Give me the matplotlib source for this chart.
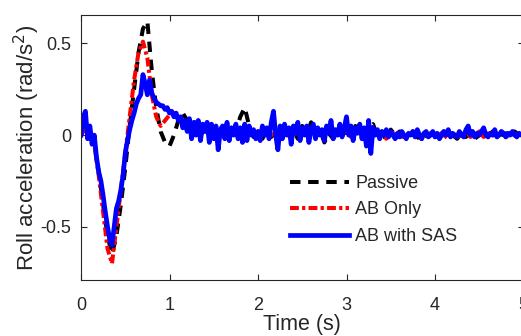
import numpy as np
import matplotlib
matplotlib.use("Agg")
import matplotlib.pyplot as plt

plt.rcParams['font.family'] = ['Liberation Sans', 'DejaVu Sans']

# Passive, sampled every 0.05 s from 0 to 5 s
t_passive = [i * 0.05 for i in range(101)]
passive = [0.0, 0.05, 0.0, -0.05, -0.2, -0.38, -0.55, -0.65, -0.55, -0.38,
           -0.18, 0.05, 0.25, 0.45, 0.58, 0.62, 0.35, 0.15, 0.02, -0.04,
           -0.06, 0.0, 0.08, 0.12, 0.08, 0.03, 0.07, 0.0, 0.03, 0.0,
           0.02, -0.02, 0.02, 0.0, 0.04, 0.02, 0.1, 0.15, 0.05, -0.01,
           0.02, -0.02, 0.03, -0.01, 0.02, -0.02, 0.04, 0.0, 0.03, -0.02,
           0.05, 0.0, 0.07, -0.01, 0.03, -0.04, 0.01, -0.02, 0.02, 0.0,
           0.02, -0.01, 0.05, 0.02, 0.0, 0.04, 0.06, -0.01, 0.02, -0.03,
           0.03, 0.0, 0.02, -0.01, 0.0, 0.02, -0.01, -0.03, 0.0, 0.01,
           -0.02, 0.0, 0.02, -0.01, 0.0, -0.02, 0.01, -0.01, 0.02, -0.02,
           0.0, 0.01, -0.01, 0.02, -0.02, 0.0, 0.01, -0.01, 0.02, 0.0,
           0.01]

# AB Only, sampled every 0.05 s
t_ab = [i * 0.05 for i in range(101)]
ab_only = [0.0, 0.04, 0.0, -0.05, -0.22, -0.42, -0.62, -0.7, -0.5, -0.3,
           -0.1, 0.1, 0.3, 0.45, 0.51, 0.42, 0.22, 0.1, 0.05, 0.08,
           0.11, 0.12, 0.1, 0.08, 0.05, 0.03, 0.05, 0.01, 0.03, 0.0,
           0.02, -0.01, 0.03, 0.01, 0.02, 0.0, 0.03, 0.01, 0.04, 0.0,
           0.02, -0.01, 0.03, 0.0, 0.02, -0.02, 0.03, 0.01, 0.02, -0.01,
           0.03, 0.0, 0.04, 0.01, 0.02, -0.02, 0.02, 0.0, 0.03, 0.01,
           0.02, -0.01, 0.04, 0.01, 0.02, 0.03, 0.02, 0.0, 0.01, -0.02,
           0.02, 0.0, 0.01, -0.02, 0.0, 0.02, -0.01, -0.02, 0.01, 0.0,
           -0.01, 0.01, 0.0, -0.02, 0.01, -0.01, 0.0, 0.02, -0.01, 0.0,
           0.02, -0.01, 0.01, 0.0, -0.01, 0.02, -0.01, 0.01, 0.0, 0.01,
           0.0]

# AB with SAS, sampled every 0.025 s
t_sas = [i * 0.025 for i in range(201)]
ab_sas = [0.0, 0.1, 0.13, -0.02, 0.05, -0.05, 0.0, -0.12, -0.2, -0.25,
          -0.33, -0.42, -0.5, -0.57, -0.6, -0.5, -0.4, -0.36, -0.3, -0.22,
          -0.1, -0.03, 0.03, 0.08, 0.12, 0.17, 0.2, 0.22, 0.33, 0.28,
          0.22, 0.3, 0.23, 0.2, 0.18, 0.17, 0.16, 0.16, 0.14, 0.15,
          0.12, 0.13, 0.1, 0.12, 0.08, 0.1, 0.04, 0.08, 0.02, 0.09,
          -0.02, 0.07, 0.0, 0.08, -0.03, 0.06, 0.02, 0.07, -0.04, 0.06,
          -0.02, 0.05, -0.08, 0.03, 0.05, -0.02, 0.07, -0.03, 0.04, 0.0,
          0.06, -0.02, 0.04, -0.04, 0.06, -0.03, 0.05, 0.0, 0.03, -0.02,
          0.02, -0.03, 0.05, 0.0, 0.04, -0.02, 0.07, 0.13, 0.0, -0.08,
          0.05, -0.02, 0.06, 0.0, 0.04, -0.05, 0.05, 0.01, 0.07, -0.03,
          0.04, 0.0, 0.05, -0.04, 0.03, 0.06, -0.02, 0.04, 0.0, 0.03,
          -0.03, 0.05, 0.01, 0.08, -0.02, 0.03, 0.0, 0.06, -0.01, 0.04,
          0.1, 0.0, 0.05, -0.03, 0.04, 0.01, 0.06, -0.02, 0.04, -0.06,
          0.08, -0.1, 0.04, 0.0, 0.03, -0.02, 0.02, 0.0, 0.03, -0.01,
          0.02, 0.0, -0.02, 0.01, -0.01, 0.02, 0.0, -0.02, 0.01, 0.0,
          0.02, -0.01, 0.03, 0.0, -0.02, 0.01, 0.02, -0.01, 0.0, 0.02,
          -0.01, 0.01, -0.02, 0.0, 0.02, 0.0, 0.03, -0.01, 0.01, 0.0,
          -0.01, 0.02, 0.0, -0.01, 0.03, 0.05, 0.0, 0.02, -0.01, 0.01,
          0.0, 0.02, 0.04, 0.0, -0.01, 0.01, 0.0, 0.03, -0.01, 0.0,
          0.02, 0.01, -0.01, 0.01, 0.0, 0.02, 0.0, -0.01, 0.01, 0.0,
          0.01]

x_ticks = [0, 1, 2, 3, 4, 5]
y_ticks = [-0.5, 0, 0.5]
y_tick_labels = ['-0.5', '0', '0.5']

fig = plt.figure(figsize=(5.21, 3.36), dpi=100)
W, H = 521, 336
ax = fig.add_axes([81 / W, 1 - 280 / H, 442.5 / W, 265 / H])

ax.plot(t_passive, passive, color='black', linestyle=(0, (2.6, 1.9)), lw=2.9, label='Passive')
ax.plot(t_ab, ab_only, color='red', linestyle=(0, (2.2, 0.8, 0.8, 0.8)), lw=2.9, label='AB Only')
ax.plot(t_sas, ab_sas, color='blue', linestyle='-', lw=3.4, label='AB with SAS')

ax.set_xlim(0, 5)
ax.set_ylim(-0.79, 0.655)
ax.set_xticks(x_ticks)
ax.set_yticks(y_ticks)
ax.set_yticklabels(y_tick_labels)

dark = '#262626'
for s in ax.spines.values():
    s.set_color(dark)
    s.set_linewidth(0.8)
ax.tick_params(direction='in', length=4, width=0.8, top=True, right=True,
               colors=dark, labelsize=13)
ax.tick_params(axis='x', pad=12)
ax.tick_params(axis='y', pad=7)
ax.set_xlabel('Time (s)', fontsize=15.5, color=dark, labelpad=0)
ax.set_ylabel('Roll acceleration (rad/s$^2$)', fontsize=16, color=dark, labelpad=-1)

leg = ax.legend(loc='upper left', bbox_to_anchor=(0.472, 0.396), frameon=False,
                fontsize=13, handlelength=3.3, handletextpad=0.33,
                labelspacing=0.52, borderpad=0, borderaxespad=0)
for txt in leg.get_texts():
    txt.set_color(dark)

fig.savefig('out.png', dpi=100)
